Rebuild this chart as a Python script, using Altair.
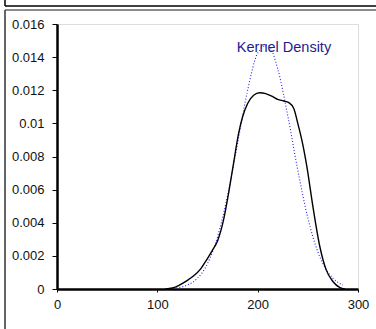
import altair as alt
import pandas as pd

# Kernel density (black solid)
kd_x = [108, 115, 122, 130, 136, 143, 149, 155, 160, 166, 171, 176, 181, 185, 190,
        196, 202, 208, 214, 220, 226, 231, 236, 240, 244, 249, 255, 262, 268, 275, 282, 287]
kd_y = [0.0, 0.00006, 0.00024, 0.00052, 0.00078, 0.00120, 0.00175, 0.00235, 0.00290,
        0.00417, 0.00578, 0.00760, 0.00940, 0.01040, 0.01120, 0.01170, 0.01185, 0.01180,
        0.01165, 0.01145, 0.01135, 0.01125, 0.01090, 0.01000, 0.00900, 0.00740, 0.00500,
        0.00255, 0.00120, 0.00045, 0.00008, 0.0]

# Reference normal curve (blue dotted)
nd_x = [119, 120, 130, 140, 150, 160, 170, 180, 190, 200, 210, 220, 230, 240, 250, 260, 270, 280, 285]
nd_y = [0.00007, 0.000078, 0.00024, 0.00065, 0.00153, 0.00315, 0.00564, 0.00881, 0.0120,
        0.01424, 0.01474, 0.01329, 0.01046, 0.00717, 0.00429, 0.00224, 0.00102, 0.00040, 0.00024]

x_ticks = [0, 100, 200, 300]
y_ticks = [0, 0.002, 0.004, 0.006, 0.008, 0.010, 0.012, 0.014, 0.016]
label_text = ["Kernel Density"]

kd = pd.DataFrame({"x": kd_x, "y": kd_y})
nd = pd.DataFrame({"x": nd_x, "y": nd_y})

FONT = "Liberation Sans"

xs = alt.Scale(domain=[0, 300], nice=False, zero=False)
ys = alt.Scale(domain=[0, 0.016], nice=False, zero=False)

xax = alt.Axis(values=x_ticks, title=None, grid=False, domainColor="black", domainWidth=2.5,
               tickColor="black", tickSize=3, labelFont=FONT, labelFontSize=13,
               labelColor="#111", labelPadding=6, labelFlush=False, labelOverlap=False)
yax = alt.Axis(values=y_ticks, title=None, grid=False, domainColor="black", domainWidth=2.5,
               tickColor="black", tickSize=5, labelFont=FONT, labelFontSize=13,
               labelColor="#111", labelPadding=8, format=".3~f", labelOverlap=False,
               labelBound=False, tickCount=9)

black = alt.Chart(kd).mark_line(color="black", strokeWidth=1.4, interpolate="monotone").encode(
    x=alt.X("x:Q", scale=xs, axis=xax),
    y=alt.Y("y:Q", scale=ys, axis=yax),
)

blue = alt.Chart(nd).mark_line(color="#2020ff", strokeWidth=1.1, strokeDash=[1, 2],
                               interpolate="monotone").encode(
    x=alt.X("x:Q", scale=xs, axis=xax),
    y=alt.Y("y:Q", scale=ys, axis=yax),
)

txt = alt.Chart(pd.DataFrame({"t": label_text})).mark_text(
    font=FONT, fontSize=14.5, color="#1c1c8c", align="center", baseline="alphabetic"
).encode(x=alt.value(227), y=alt.value(28), text="t:N")

# Outer frame lines (Excel-like box)
frame_top = alt.Chart(pd.DataFrame({"a": [0]})).mark_rule(color="black", strokeWidth=1.5, clip=False).encode(
    x=alt.value(-52), x2=alt.value(330), y=alt.value(-18))
frame_top_left = alt.Chart(pd.DataFrame({"a": [0]})).mark_rule(color="black", strokeWidth=1.5, clip=False).encode(
    x=alt.value(-52), y=alt.value(-30), y2=alt.value(-18))
frame2_top = alt.Chart(pd.DataFrame({"a": [0]})).mark_rule(color="#666", strokeWidth=1.5, clip=False).encode(
    x=alt.value(-52), x2=alt.value(330), y=alt.value(-14))
frame2_left = alt.Chart(pd.DataFrame({"a": [0]})).mark_rule(color="#333", strokeWidth=1.5, clip=False).encode(
    x=alt.value(-52), y=alt.value(-14), y2=alt.value(320))

chart = alt.layer(blue, black, frame_top, frame_top_left, frame2_top, frame2_left, txt).properties(
    width=301, height=265,
    autosize=alt.AutoSizeParams(type="none"),
    padding={"left": 57, "top": 24, "right": 18, "bottom": 40},
).configure_view(stroke="#888", strokeWidth=1).configure(background="white")

chart.save("out.html", embed_options={"renderer": "svg", "actions": False})
